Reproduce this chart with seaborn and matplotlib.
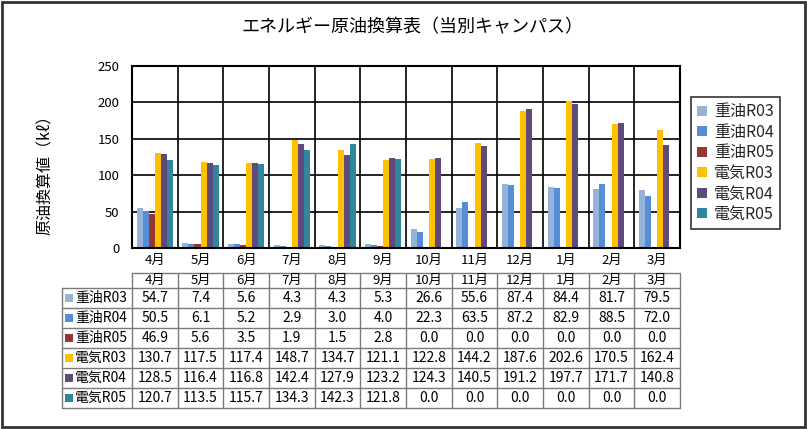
import numpy as np
import pandas as pd
import matplotlib.pyplot as plt
import seaborn as sns
from matplotlib.patches import Rectangle

months = ['4月', '5月', '6月', '7月', '8月', '9月', '10月', '11月', '12月', '1月', '2月', '3月']
series = ['重油R03', '重油R04', '重油R05', '電気R03', '電気R04', '電気R05']
oil_r03 = [54.7, 7.4, 5.6, 4.3, 4.3, 5.3, 26.6, 55.6, 87.4, 84.4, 81.7, 79.5]
oil_r04 = [50.5, 6.1, 5.2, 2.9, 3.0, 4.0, 22.3, 63.5, 87.2, 82.9, 88.5, 72.0]
oil_r05 = [46.9, 5.6, 3.5, 1.9, 1.5, 2.8, 0.0, 0.0, 0.0, 0.0, 0.0, 0.0]
elec_r03 = [130.7, 117.5, 117.4, 148.7, 134.7, 121.1, 122.8, 144.2, 187.6, 202.6, 170.5, 162.4]
elec_r04 = [128.5, 116.4, 116.8, 142.4, 127.9, 123.2, 124.3, 140.5, 191.2, 197.7, 171.7, 140.8]
elec_r05 = [120.7, 113.5, 115.7, 134.3, 142.3, 121.8, 0.0, 0.0, 0.0, 0.0, 0.0, 0.0]
colors = ['#95B3D7', '#558ED5', '#953735', '#FFC000', '#604A7B', '#31859C']

values = [oil_r03, oil_r04, oil_r05, elec_r03, elec_r04, elec_r05]
df = pd.DataFrame({
    '月': months * len(series),
    '値': sum(values, []),
    '系列': [s for s in series for _ in months],
})

sns.set_theme(style='white')
plt.rcParams['font.family'] = ['Noto Sans CJK JP', 'DejaVu Sans']

W, H = 807, 429
fig = plt.figure(figsize=(W / 100, H / 100), dpi=100)


def box(l, t, r, b):
    return [l / W, 1 - b / H, (r - l) / W, (b - t) / H]


# bar chart
ax = fig.add_axes(box(132, 66, 680, 248))
sns.barplot(data=df, x='月', y='値', hue='系列', palette=colors, ax=ax,
            width=0.8, saturation=1, linewidth=0, order=months, hue_order=series)
ax.set_xlim(-0.5, 11.5)
ax.set_ylim(0, 250)
ax.set_yticks(range(0, 251, 50))
ax.set_xticks(np.arange(0.5, 11, 1), minor=True)
ax.set_axisbelow(True)
ax.grid(True, axis='y', which='major', color='black', lw=1.2)
ax.grid(True, axis='x', which='minor', color='black', lw=1.2)
ax.grid(False, axis='x', which='major')
for sp in ax.spines.values():
    sp.set_color('black')
    sp.set_linewidth(1.5)
ax.tick_params(axis='both', length=0, which='both', labelsize=9.5, colors='black')
ax.tick_params(axis='y', pad=9)
ax.tick_params(axis='x', pad=4)
ax.set_xlabel('')
ax.set_ylabel('')

handles, labels = ax.get_legend_handles_labels()
ax.get_legend().remove()
leg = fig.legend(handles, labels, loc='upper left', bbox_to_anchor=(691 / W, 1 - 97 / H),
                 frameon=True, fancybox=False, edgecolor='black', fontsize=11.5,
                 handlelength=0.6, handleheight=0.6, handletextpad=0.45,
                 labelspacing=0.22, borderpad=0.4, borderaxespad=0)
leg.get_frame().set_linewidth(1.2)

fig.text(412 / W, 1 - 27 / H, 'エネルギー原油換算表（当別キャンパス）', ha='center', va='center',
         fontsize=13, color='black')
fig.text(45 / W, 1 - 171 / H, '原油換算値（kℓ）', rotation=90, ha='center', va='center',
         fontsize=11.5, color='black')

# data table under the chart
tax = fig.add_axes(box(132, 273, 680, 408))
tax.set_xlim(-0.5, 11.5)
tax.set_ylim(135, 0)
tax.axis('off')


def px2x(px):
    return (px - 132) / ((680 - 132) / 12) - 0.5


xl = px2x(62)
lc = '#7a7a7a'
kw = dict(color=lc, lw=1, clip_on=False)
tax.plot([-0.5, 11.5], [0, 0], **kw)
for i in range(7):
    y = 15 + 20 * i
    tax.plot([xl, 11.5], [y, y], **kw)
for i in range(13):
    x = i - 0.5
    tax.plot([x, x], [0, 135], **kw)
tax.plot([xl, xl], [15, 135], **kw)

for j, m in enumerate(months):
    tax.text(j, 7.5, m, ha='center', va='center', fontsize=9.5, color='black')
for i, (name, vals, c) in enumerate(zip(series, values, colors)):
    yc = 25 + 20 * i
    tax.add_patch(Rectangle((px2x(65), yc - 4), px2x(73) - px2x(65), 8,
                            facecolor=c, edgecolor='none', clip_on=False))
    tax.text(px2x(75), yc, name, ha='left', va='center', fontsize=10, color='black')
    for j, v in enumerate(vals):
        tax.text(j, yc, f'{v:.1f}', ha='center', va='center', fontsize=10, color='black')

# outer chart border
fig.patches.append(Rectangle((1.5 / W, 2 / H), 803 / W, 425.5 / H, transform=fig.transFigure,
                             fill=False, edgecolor='#333333', lw=2))

fig.savefig('out.png', dpi=100)
